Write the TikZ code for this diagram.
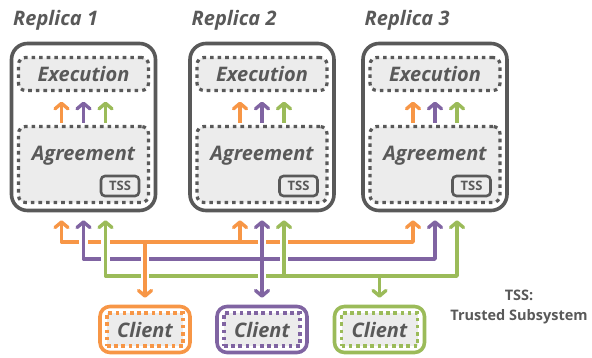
\documentclass[tikz,border=0pt]{standalone}
\usepackage{fontspec}
\setmainfont{Open Sans}
\usetikzlibrary{arrows.meta, positioning, calc}

\definecolor{boxgray}{HTML}{595959}
\definecolor{fillgray}{HTML}{ECECEC}
\definecolor{msorange}{HTML}{F79646}
\definecolor{mspurple}{HTML}{8064A2}
\definecolor{msgreen}{HTML}{9BBB59}

\tikzset{
  >={Straight Barb[length=5.5pt, width=13pt, round]},
  replica/.style={draw=boxgray, line width=3.6pt, rounded corners=16pt,
    minimum width=144pt, minimum height=167pt},
  replicaname/.style={anchor=base west, text=boxgray,
    font=\fontsize{20}{23}\selectfont\bfseries\itshape},
  layer/.style={draw=boxgray, fill=fillgray, line width=3.2pt,
    dash pattern=on 3.6pt off 4pt, rounded corners=7pt,
    minimum width=130pt, inner sep=0pt},
  layertext/.style={text=boxgray, font=\fontsize{20}{23}\selectfont\bfseries\itshape},
  tssbox/.style={draw=boxgray, fill=fillgray, line width=2.6pt, rounded corners=4pt,
    minimum width=38pt, minimum height=20pt, inner sep=0pt, text=boxgray,
    font=\fontsize{13}{15}\selectfont\bfseries},
  client/.style={draw=#1, line width=3.6pt, rounded corners=10pt,
    minimum width=90pt, minimum height=46pt},
  clientin/.style={draw=#1, fill=fillgray, line width=3.2pt,
    dash pattern=on 3.6pt off 3.6pt, minimum width=76pt, minimum height=33pt,
    inner sep=0pt, text=boxgray, font=\fontsize{20}{23}\selectfont\bfseries\itshape},
  conn/.style={line width=3.4pt, line join=round},
  halo/.style={preaction={-, draw=white, line width=8.5pt}},
  halot/.style={preaction={-, draw=white, line width=8.5pt, shorten <=1.8pt}},
  legend/.style={text=boxgray, align=center,
    font=\fontsize{14.5}{20}\selectfont\bfseries}
}

\begin{document}
\begin{tikzpicture}[x=1pt, y=-1pt]
  \useasboundingbox (0,0) rectangle (592,357);

  \node[replica] (r1) at (83.5,127) {};
  \node[replica] (r2) at (262,127) {};
  \node[replica] (r3) at (435,127) {};

  \node[replicaname] (n1) at ($(r1.north west)+(0,-16.5)$) {Replica 1};
  \node[replicaname] (n2) at ($(r2.north west)+(0,-16.5)$) {Replica 2};
  \node[replicaname] (n3) at ($(r3.north west)+(0,-16.5)$) {Replica 3};

  \node[layer, minimum height=33pt, layertext] (e1) at ($(r1)+(0,-53)$) {Execution};
  \node[layer, minimum height=33pt, layertext] (e2) at ($(r2)+(0,-53)$) {Execution};
  \node[layer, minimum height=33pt, layertext] (e3) at ($(r3)+(0,-53)$) {Execution};

  \node[layer, minimum height=76pt] (a1) at ($(r1)+(0,37.5)$) {};
  \node[layer, minimum height=76pt] (a2) at ($(r2)+(0,37.5)$) {};
  \node[layer, minimum height=76pt] (a3) at ($(r3)+(0,37.5)$) {};

  \node[layertext, anchor=base] (l1) at ($(a1.north)+(0,35.5)$) {Agreement};
  \node[layertext, anchor=base] (l2) at ($(a2.north)+(0,35.5)$) {Agreement};
  \node[layertext, anchor=base] (l3) at ($(a3.north)+(0,35.5)$) {Agreement};

  \node[tssbox] (t1) at ($(a1)+(36.5,21.5)$) {TSS};
  \node[tssbox] (t2) at ($(a2)+(36.5,21.5)$) {TSS};
  \node[tssbox] (t3) at ($(a3)+(36.5,21.5)$) {TSS};

  \draw[conn, msorange, ->, shorten <=2pt, shorten >=9.5pt] ($(a1.north)+(-22,0)$) -- ($(e1.south)+(-22,0)$);
  \draw[conn, mspurple, ->, shorten <=2pt, shorten >=9.5pt] (a1.north) -- (e1.south);
  \draw[conn, msgreen, ->, shorten <=2pt, shorten >=9.5pt] ($(a1.north)+(22,0)$) -- ($(e1.south)+(22,0)$);
  \draw[conn, msorange, ->, shorten <=2pt, shorten >=9.5pt] ($(a2.north)+(-22,0)$) -- ($(e2.south)+(-22,0)$);
  \draw[conn, mspurple, ->, shorten <=2pt, shorten >=9.5pt] (a2.north) -- (e2.south);
  \draw[conn, msgreen, ->, shorten <=2pt, shorten >=9.5pt] ($(a2.north)+(22,0)$) -- ($(e2.south)+(22,0)$);
  \draw[conn, msorange, ->, shorten <=2pt, shorten >=9.5pt] ($(a3.north)+(-22,0)$) -- ($(e3.south)+(-22,0)$);
  \draw[conn, mspurple, ->, shorten <=2pt, shorten >=9.5pt] (a3.north) -- (e3.south);
  \draw[conn, msgreen, ->, shorten <=2pt, shorten >=9.5pt] ($(a3.north)+(22,0)$) -- ($(e3.south)+(22,0)$);

  \node[client=msorange] (c1) at (145,329.5) {};
  \node[client=mspurple] (c2) at (262,329.5) {};
  \node[client=msgreen] (c3) at (379.5,329.5) {};
  \node[clientin=msorange] (k1) at (c1) {Client};
  \node[clientin=mspurple] (k2) at (c2) {Client};
  \node[clientin=msgreen] (k3) at (c3) {Client};

  \node[legend] (tss) at (519,307) {TSS:\\Trusted Subsystem};

  \coordinate (o1) at ($(r1.south)+(-22,8)$);
  \coordinate (p1) at ($(r1.south)+(0,8)$);
  \coordinate (g1) at ($(r1.south)+(22,8)$);
  \coordinate (o2) at ($(r2.south)+(-22,8)$);
  \coordinate (p2) at ($(r2.south)+(0,8)$);
  \coordinate (g2) at ($(r2.south)+(22,8)$);
  \coordinate (o3) at ($(r3.south)+(-22,8)$);
  \coordinate (p3) at ($(r3.south)+(0,8)$);
  \coordinate (g3) at ($(r3.south)+(22,8)$);
  \coordinate (busO) at (0,242);
  \coordinate (busP) at (0,259);
  \coordinate (busG) at (0,276);

  \draw[conn, msorange, <->] (o1) |- (o3 |- busO) -- (o3);
  \draw[conn, msorange, ->] (o2 |- busO) -- (o2);
  \draw[conn, mspurple, halo, <->] (p1) |- (p3 |- busP) -- (p3);
  \draw[conn, msgreen, halo, <->] (g1) |- (g3 |- busG) -- (g3);
  \draw[conn, msgreen, halot, ->] (g2 |- busG) -- (g2);
  \draw[conn, mspurple, halo, <->, shorten >=7pt] (p2) -- (c2.north);
  \draw[conn, mspurple] ($(p2 |- busP)+(-5.5,0)$) -- ($(p2 |- busP)+(5.5,0)$);
  \draw[conn, msorange, halot, ->, shorten >=7pt] (c1.north |- busO) -- (c1.north);
  \draw[conn, msgreen, ->, shorten >=7pt] (c3.north |- busG) -- (c3.north);
\end{tikzpicture}
\end{document}
